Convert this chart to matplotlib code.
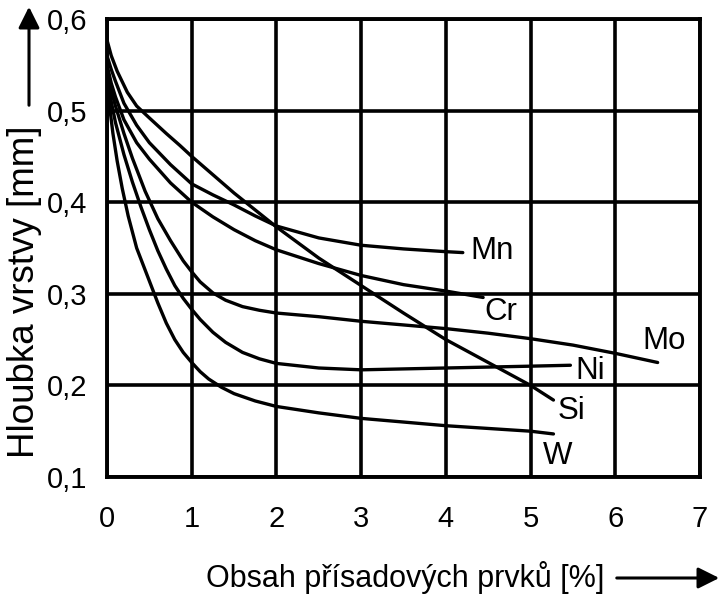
import matplotlib
matplotlib.use("Agg")
import matplotlib.pyplot as plt

plt.rcParams['font.family'] = ['Liberation Sans', 'DejaVu Sans']

# Content of alloying element [%] vs. case depth [mm]
w_x = [0.0, 0.03, 0.07, 0.12, 0.18, 0.25, 0.35, 0.5, 0.6, 0.7, 0.8, 0.9, 1.0, 1.1, 1.2, 1.35,
       1.5, 1.75, 2.0, 2.5, 3.0, 3.5, 4.0, 4.5, 5.0, 5.27]
w_y = [0.535, 0.505, 0.475, 0.445, 0.415, 0.385, 0.35, 0.314, 0.29, 0.268, 0.25, 0.236, 0.225,
       0.215, 0.207, 0.198, 0.191, 0.183, 0.177, 0.17, 0.164, 0.16, 0.156, 0.153, 0.150, 0.147]

ni_x = [0.0, 0.05, 0.1, 0.2, 0.3, 0.4, 0.5, 0.6, 0.7, 0.8, 0.9, 1.0, 1.1, 1.25, 1.4, 1.6, 1.8,
        2.0, 2.5, 3.0, 3.5, 4.0, 4.5, 5.0, 5.47]
ni_y = [0.54, 0.51, 0.487, 0.452, 0.422, 0.395, 0.37, 0.347, 0.327, 0.309, 0.295, 0.283, 0.272,
        0.258, 0.247, 0.236, 0.229, 0.224, 0.219, 0.217, 0.218, 0.219, 0.220, 0.221, 0.222]

mo_x = [0.0, 0.05, 0.1, 0.2, 0.3, 0.45, 0.6, 0.75, 0.9, 1.0, 1.1, 1.25, 1.4, 1.6, 1.8, 2.0,
        2.5, 3.0, 3.5, 4.0, 4.5, 5.0, 5.5, 6.0, 6.5]
mo_y = [0.545, 0.522, 0.505, 0.475, 0.448, 0.412, 0.382, 0.358, 0.336, 0.324, 0.313, 0.301,
        0.293, 0.286, 0.282, 0.279, 0.275, 0.27, 0.266, 0.262, 0.257, 0.251, 0.244, 0.235, 0.225]

cr_x = [0.0, 0.05, 0.1, 0.2, 0.35, 0.5, 0.75, 1.0, 1.25, 1.5, 1.75, 2.0, 2.5, 3.0, 3.5, 4.0, 4.44]
cr_y = [0.55, 0.53, 0.515, 0.49, 0.465, 0.447, 0.421, 0.40, 0.384, 0.37, 0.358, 0.348, 0.333,
        0.32, 0.31, 0.303, 0.296]

mn_x = [0.0, 0.05, 0.1, 0.2, 0.35, 0.5, 0.75, 1.0, 1.25, 1.5, 1.75, 2.0, 2.5, 3.0, 3.5, 4.0, 4.2]
mn_y = [0.56, 0.545, 0.532, 0.508, 0.484, 0.465, 0.441, 0.42, 0.408, 0.397, 0.385, 0.374, 0.361,
        0.353, 0.349, 0.346, 0.345]

si_x = [0.0, 0.05, 0.12, 0.24, 0.35, 0.5, 0.7, 0.86, 1.0, 1.5, 2.0, 2.5, 3.0, 3.5, 4.0, 4.5,
        5.0, 5.27]
si_y = [0.577, 0.56, 0.543, 0.52, 0.505, 0.492, 0.475, 0.462, 0.45, 0.41, 0.373, 0.339, 0.309,
        0.279, 0.25, 0.225, 0.2, 0.184]

series = [
    ("Mn", mn_x, mn_y, (4.29, 0.347), 'left'),
    ("Cr", cr_x, cr_y, (4.65, 0.280), 'center'),
    ("Mo", mo_x, mo_y, (6.58, 0.249), 'center'),
    ("Ni", ni_x, ni_y, (5.70, 0.216), 'center'),
    ("Si", si_x, si_y, (5.48, 0.172), 'center'),
    ("W", w_x, w_y, (5.32, 0.123), 'center'),
]

x_ticks = [0, 1, 2, 3, 4, 5, 6, 7]
y_ticks = [0.1, 0.2, 0.3, 0.4, 0.5, 0.6]
y_tick_labels = ["0,1", "0,2", "0,3", "0,4", "0,5", "0,6"]

FS = 21

fig = plt.figure(figsize=(7.24, 5.96), dpi=100)
ax = fig.add_axes([107 / 724, 1 - 477 / 596, (700 - 107) / 724, (477 - 19) / 596])

ax.set_xlim(0, 7)
ax.set_ylim(0.1, 0.6)
ax.set_xticks(x_ticks)
ax.set_xticklabels([str(t) for t in x_ticks])
ax.set_yticks(y_ticks)
ax.set_yticklabels(y_tick_labels)
ax.tick_params(length=0, labelsize=FS, colors='black')
ax.tick_params(axis='x', pad=20)
ax.tick_params(axis='y', pad=14)
ax.grid(True, color='black', linewidth=2.6)
ax.set_axisbelow(True)
for sp in ax.spines.values():
    sp.set_linewidth(2.8)
    sp.set_color('black')

for name, xs, ys, (lx, ly), ha in series:
    ax.plot(xs, ys, color='black', linewidth=2.4, solid_capstyle='round',
            solid_joinstyle='round', zorder=3)
    ax.text(lx, ly, name, fontsize=22.5, ha=ha, va='center', color='black', zorder=4)

# axis titles with direction arrows
fig.text(405 / 724, 1 - 578 / 596, "Obsah přísadových prvků [%]", fontsize=22,
         ha='center', va='center')
ax.annotate("", xy=(722, 596 - 578), xytext=(614, 596 - 578), xycoords='figure pixels',
            textcoords='figure pixels',
            arrowprops=dict(arrowstyle='-|>', color='black', lw=2.2, mutation_scale=32))

fig.text(25 / 724, 1 - 292 / 596, "Hloubka vrstvy [mm]", fontsize=26.5, rotation=90,
         ha='center', va='center')
ax.annotate("", xy=(29, 596 - 4), xytext=(29, 596 - 108), xycoords='figure pixels',
            textcoords='figure pixels',
            arrowprops=dict(arrowstyle='-|>', color='black', lw=2.2, mutation_scale=32))

fig.savefig("out.png", dpi=100)
